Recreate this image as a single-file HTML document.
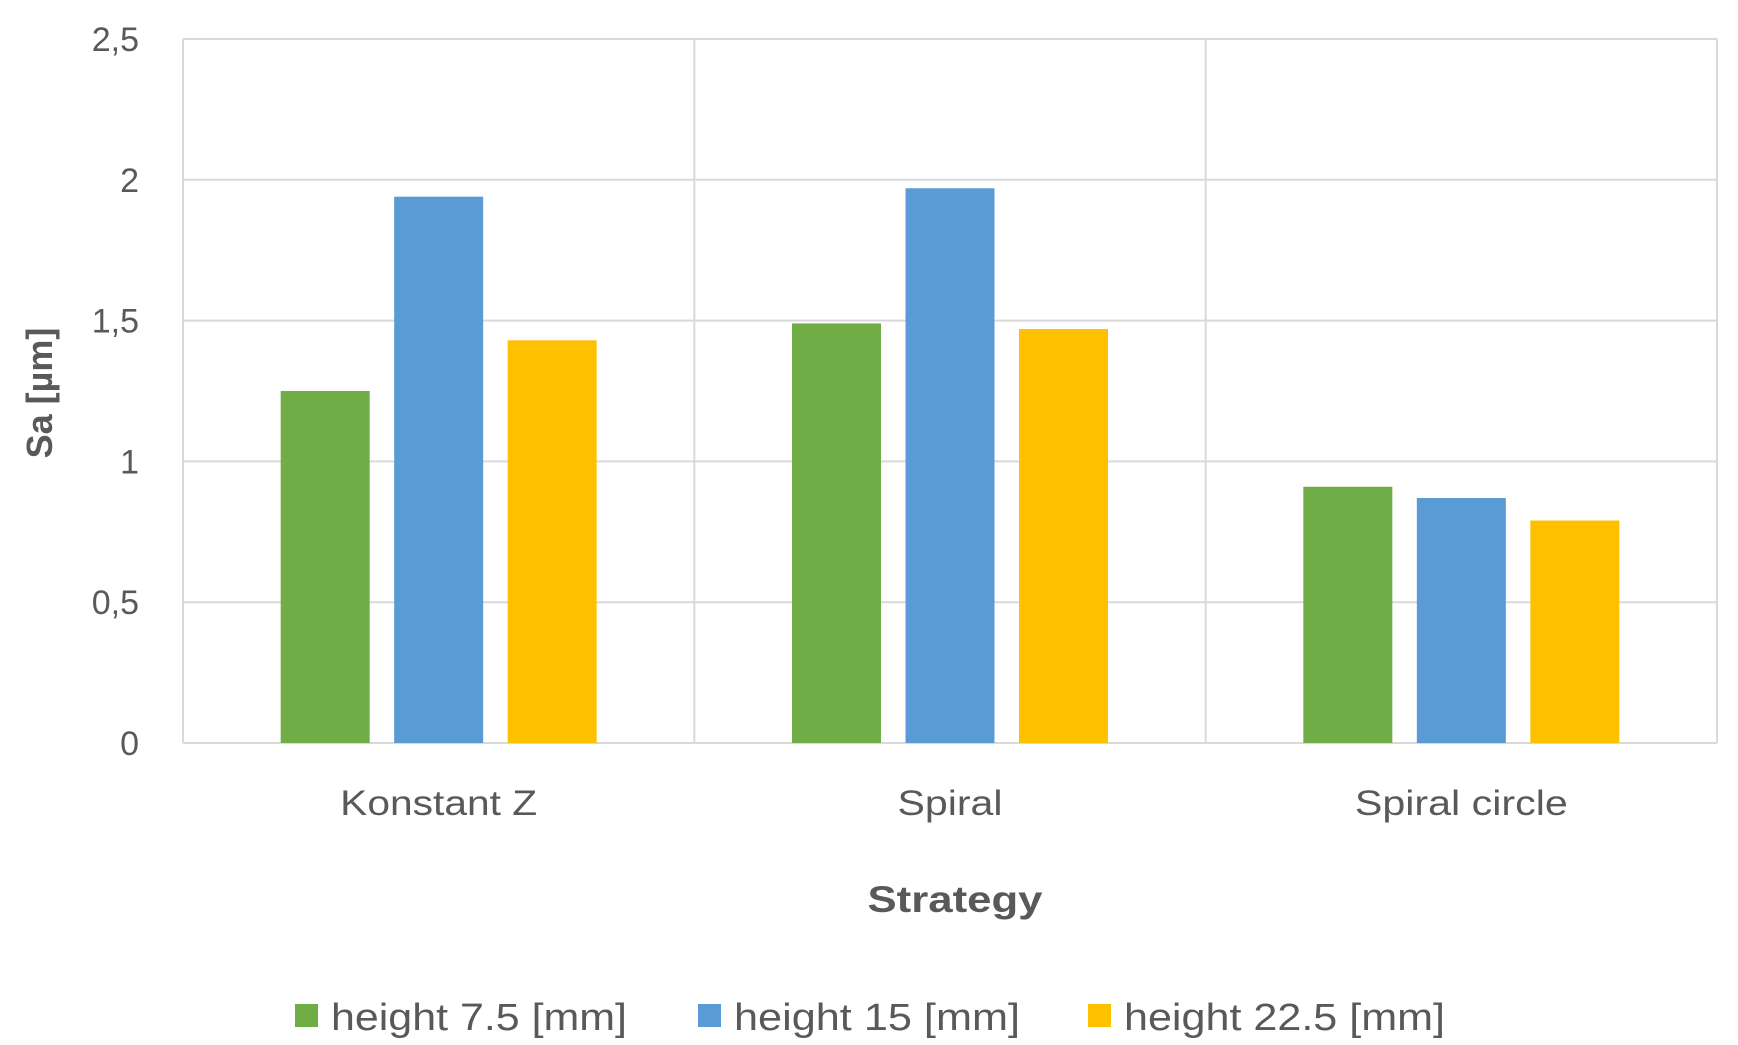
<!DOCTYPE html>
<html><head><meta charset="utf-8"><style>
html,body{margin:0;padding:0;background:#fff;}
svg{display:block;font-family:"Liberation Sans",sans-serif;}
</style></head><body>
<svg id="chart" width="1738" height="1045" viewBox="0 0 1738 1045">
<g id="grid"></g><g id="bars"></g><g id="labels"></g>
<text transform="translate(52,393) rotate(-90)" text-anchor="middle" font-size="36" font-weight="bold" fill="#595959">Sa [µm]</text>
<text x="955" y="912" text-anchor="middle" font-size="37" font-weight="bold" fill="#595959" textLength="175" lengthAdjust="spacingAndGlyphs">Strategy</text>
<g id="legend"></g>
</svg>
<script>
const categories = ["Konstant Z", "Spiral", "Spiral circle"];
const seriesNames = ["height 7.5 [mm]", "height 15 [mm]", "height 22.5 [mm]"];
const seriesColors = ["#70AD47", "#5B9BD5", "#FFC000"];
const s1 = [1.25, 1.49, 0.91];
const s2 = [1.94, 1.97, 0.87];
const s3 = [1.43, 1.47, 0.79];
const yTicks = [0, 0.5, 1, 1.5, 2, 2.5];
const yTickLabels = ["0", "0,5", "1", "1,5", "2", "2,5"];
const series = [s1, s2, s3];

const NS = "http://www.w3.org/2000/svg";
const L = 183, R = 1717, T = 39, B = 743, yMax = 2.5;
const catW = (R - L) / categories.length;
const barW = 89, gap = 24.5;
const catLabelW = [197, 105, 213];
const legLabelW = [296, 286, 321];
function y(v){ return B - (v / yMax) * (B - T); }
function xc(i){ return L + catW * (i + 0.5); }
function mk(tag, attrs, parent){ const e=document.createElementNS(NS,tag); for(const k in attrs) e.setAttribute(k,attrs[k]); parent.appendChild(e); return e; }
const grid=document.getElementById('grid'), bars=document.getElementById('bars'), labels=document.getElementById('labels'), legend=document.getElementById('legend');

yTicks.forEach((t,i)=>{
  const ln=mk('line',{x1:L,x2:R,y1:y(t),y2:y(t),stroke:'#d9d9d9','stroke-width':2},grid);
  
  
  const tx=mk('text',{x:139,y:y(t)+12,'text-anchor':'end','font-size':34,fill:'#595959'},labels);
  tx.textContent=yTickLabels[i];
  
  
});
for(let i=0;i<=categories.length;i++){
  const x=L+catW*i;
  const ln=mk('line',{x1:x,x2:x,y1:T,y2:B,stroke:'#d9d9d9','stroke-width':2},grid);
  
  
}
categories.forEach((c,i)=>{
  series.forEach((s,j)=>{
    const x=xc(i)+(j-1)*(barW+gap)-barW/2;
    const r=mk('rect',{x:x,y:y(s[i]),width:barW,height:B-y(s[i]),fill:seriesColors[j]},bars);
    
    
  });
  const tx=mk('text',{x:xc(i),y:815,'text-anchor':'middle','font-size':35,fill:'#595959',textLength:catLabelW[i],lengthAdjust:'spacingAndGlyphs'},labels);
  tx.textContent=c;
  
  
});
const legX=[295,698,1088];
seriesNames.forEach((n,j)=>{
  const r=mk('rect',{x:legX[j],y:1004,width:23,height:23,fill:seriesColors[j]},legend);
  
  
  const tx=mk('text',{x:legX[j]+36,y:1030,'font-size':38,fill:'#595959',textLength:legLabelW[j],lengthAdjust:'spacingAndGlyphs'},legend);
  tx.textContent=n;
  
  
});
</script>
</body></html>
